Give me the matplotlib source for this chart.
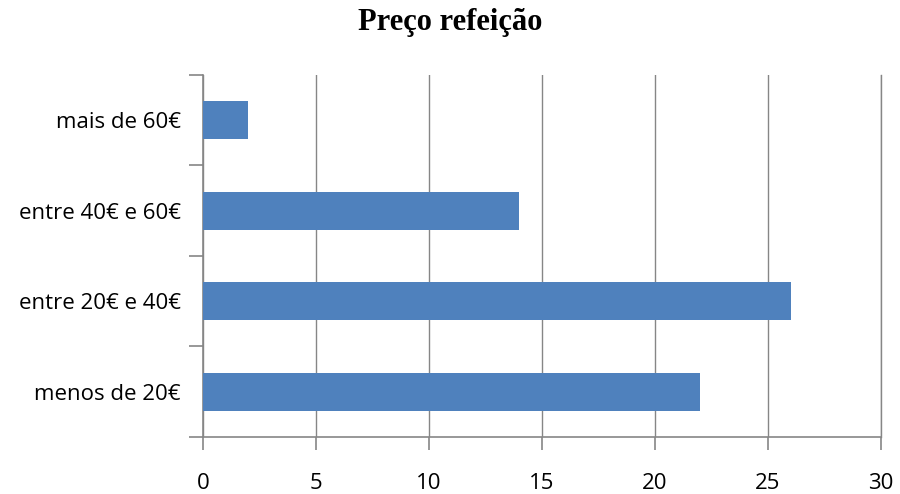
import matplotlib.pyplot as plt
import numpy as np

# price ranges and counts
categories = ['menos de 20€', 'entre 20€ e 40€', 'entre 40€ e 60€', 'mais de 60€']
counts = [22, 26, 14, 2]
x_ticks = [0, 5, 10, 15, 20, 25, 30]

fig = plt.figure(figsize=(9, 4.94), dpi=100)
ax = fig.add_axes([0.2256, 0.1154, 0.7533, 0.7328])

ypos = np.arange(len(categories))
ax.barh(ypos, counts, height=0.42, color='#4F81BD', zorder=3)

ax.set_xlim(0, 30)
ax.set_ylim(-0.5, len(categories) - 0.5)
ax.set_xticks(x_ticks)
ax.set_xticklabels([str(t) for t in x_ticks], fontsize=16, family='Open Sans')
ax.set_yticks(ypos)
ax.set_yticklabels(categories, fontsize=16, family='Open Sans')
ax.tick_params(axis='y', length=0, pad=16)
ax.set_yticks(np.arange(-0.5, len(categories), 1.0), minor=True)
ax.tick_params(axis='y', which='minor', length=10, color='#868686', width=1.2)
ax.tick_params(axis='x', length=9, color='#868686', width=1.2, pad=17)

ax.grid(True, axis='x', color='#868686', linewidth=1, zorder=0)
# last gridline sits on the edge, draw it unclipped
ax.axvline(30, color='#868686', linewidth=1, clip_on=False, zorder=0)
for s in ['top', 'right']:
    ax.spines[s].set_visible(False)
for s in ['left', 'bottom']:
    ax.spines[s].set_color('#868686')
    ax.spines[s].set_linewidth(1.2)

fig.text(0.5, 0.955, 'Preço refeição', ha='center', va='center',
         fontsize=22, fontweight='bold', family='Liberation Serif')

plt.savefig('out.png', dpi=100)
plt.close()
